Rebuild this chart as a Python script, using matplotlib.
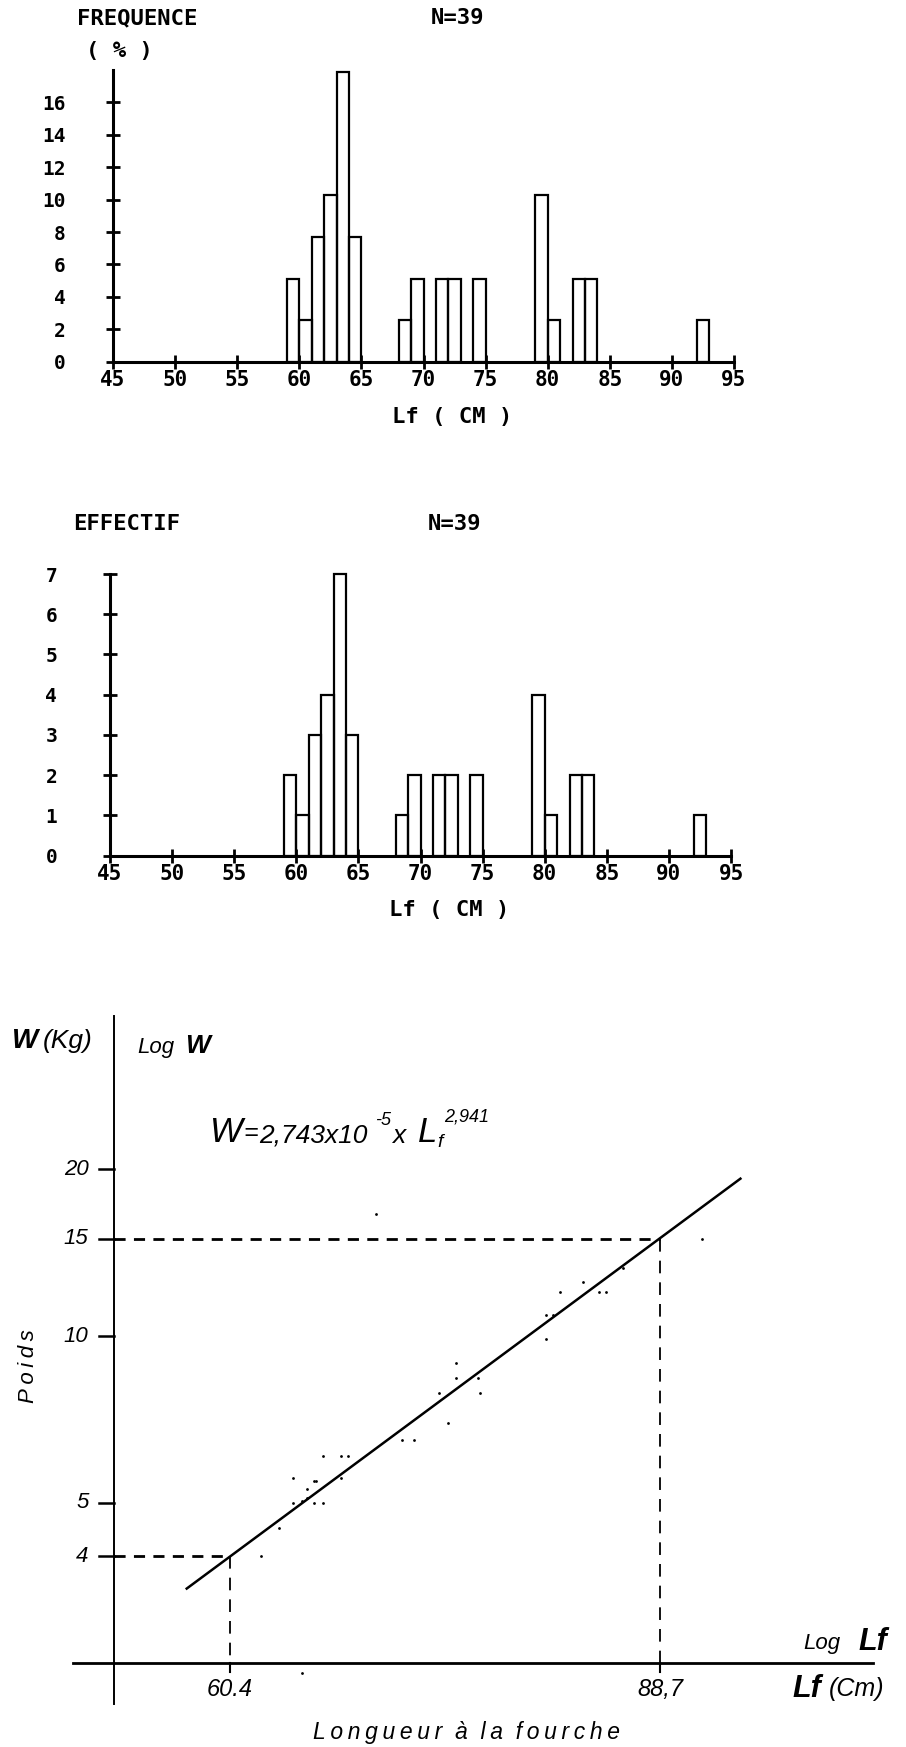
import numpy as np
import matplotlib
matplotlib.use("Agg")
import matplotlib.pyplot as plt

W_PX, H_PX = 906, 1747

# ---------------- data ----------------
bin_left = [59, 60, 61, 62, 63, 64, 68, 69, 71, 72, 74, 79, 80, 82, 83, 92]
counts = [2, 1, 3, 4, 7, 3, 1, 2, 2, 2, 2, 4, 1, 2, 2, 1]
freq_pct = [5.1, 2.6, 7.7, 10.3, 17.9, 7.7, 2.6, 5.1, 5.1, 5.1, 5.1, 10.3, 2.6, 5.1, 5.1, 2.6]
x_ticks = [45, 50, 55, 60, 65, 70, 75, 80, 85, 90, 95]
freq_ticks = [0, 2, 4, 6, 8, 10, 12, 14, 16]
count_ticks = [0, 1, 2, 3, 4, 5, 6, 7]

lf_points = [92.1, 68.8, 85.8, 82.8, 84.0, 84.5, 81.1, 80.1, 80.6, 80.1, 73.9, 73.9,
             75.4, 75.5, 72.8, 73.4, 70.4, 71.2, 65.6, 66.7, 67.1, 63.9, 65.1, 65.2,
             66.7, 64.7, 63.9, 64.4, 65.1, 65.6, 64.7, 63.1, 62.1, 64.4]
w_points = [15.0, 16.6, 13.3, 12.5, 12.0, 12.0, 12.0, 10.9, 10.9, 9.9, 8.95, 8.4,
            8.4, 7.9, 7.9, 6.97, 6.5, 6.5, 6.07, 6.07, 6.07, 5.55, 5.47, 5.47,
            5.55, 5.29, 5.0, 5.03, 5.0, 5.0, 5.1, 4.51, 4.0, 2.46]
fit_lf = [58.1, 95.3]
fit_w = [3.5, 19.25]
ref_lf = [60.4, 88.7]
ref_w = [4, 15]
ref_lf_labels = ["60.4", "88,7"]
w_ticks = [4, 5, 10, 15, 20]

# ---------------- figure ----------------
fig = plt.figure(figsize=(W_PX / 100, H_PX / 100), dpi=100)
fig.patch.set_facecolor("white")

MONO = "DejaVu Sans Mono"
ITAL = ["Liberation Sans", "DejaVu Sans"]
TS = "\u2009"  # thin space used for letter spacing


def spaced(word):
    return TS.join(word)


def px_axes(left, top, right, bottom):
    return fig.add_axes([left / W_PX, 1 - bottom / H_PX,
                         (right - left) / W_PX, (bottom - top) / H_PX])


def ptext(x, y, s, **kw):
    kw.setdefault("va", "center")
    return fig.text(x / W_PX, 1 - y / H_PX, s, **kw)


def itext(x, y, s, size, bold=False, **kw):
    kw.setdefault("va", "baseline")
    return ptext(x, y, s, fontsize=size, style="italic", family=ITAL,
                 weight="bold" if bold else "normal", **kw)


def hist_panel(box, values, ymax, yticks, ypad):
    ax = px_axes(*box)
    ax.bar(bin_left, values, width=1, align="edge", fill=False,
           edgecolor="black", linewidth=1.6, clip_on=False, zorder=3)
    ax.set_xlim(45, 95)
    ax.set_ylim(0, ymax)
    for s in ["top", "right"]:
        ax.spines[s].set_visible(False)
    for s in ["left", "bottom"]:
        ax.spines[s].set_linewidth(2.2)
    ax.set_xticks(x_ticks)
    ax.set_yticks(yticks)
    ax.tick_params(axis="both", direction="inout", length=10, width=2)
    ax.tick_params(axis="x", pad=1)
    ax.tick_params(axis="y", pad=ypad)
    for lab in ax.get_xticklabels():
        lab.set_fontfamily(MONO)
        lab.set_fontweight("bold")
        lab.set_fontsize(15)
    for lab in ax.get_yticklabels():
        lab.set_fontfamily(MONO)
        lab.set_fontweight("bold")
        lab.set_fontsize(14)
    ax.patch.set_visible(False)
    return ax


TITLE = dict(family=MONO, weight="bold", fontsize=16)

# top histogram : frequency (%)
ax1 = hist_panel((113, 70, 734, 361.7), freq_pct, 18.0, freq_ticks, 29)
ptext(77, 18, "FREQUENCE", **TITLE)
ptext(86, 51, "( % )", **TITLE)
ptext(431, 18, "N=39", **TITLE)
ptext(452, 417, "Lf ( CM )", ha="center", **TITLE)

# middle histogram : counts
ax2 = hist_panel((110, 574, 731, 855.5), counts, 7, count_ticks, 33)
ptext(73, 524, "EFFECTIF", **TITLE)
ptext(428, 524, "N=39", **TITLE)
ptext(449, 910, "Lf ( CM )", ha="center", **TITLE)

# bottom : log-log weight / length
ax3 = px_axes(0, 1000, 906, 1747)
ax3.set_xscale("log")
ax3.set_yscale("log")
ax3.set_xlim(49.17, 110.5)
ax3.set_ylim(1.811, 40.47)
ax3.axis("off")

lf_origin = 54.43     # position of the vertical (Log W) axis
w_origin = 2.564      # position of the horizontal (Log Lf) axis
w_axis_top = 37.9
w_axis_bottom = 2.17
lf_axis_left = 52.5
lf_axis_right = 107.3
tick_lf_left = 53.72
w_below = 2.475
w_label = 2.30

ax3.plot([lf_origin, lf_origin], [w_axis_bottom, w_axis_top], color="black", lw=1.4)
ax3.plot([lf_axis_left, lf_axis_right], [w_origin, w_origin], color="black", lw=2.0)

for wt in w_ticks:
    ax3.plot([tick_lf_left, lf_origin], [wt, wt], color="black", lw=1.8)
    ax3.text(tick_lf_left - 0.5, wt, str(wt), ha="right", va="center",
             fontsize=16, style="italic", family=ITAL)

# reference dashed lines
for lf_r, w_r, lab in zip(ref_lf, ref_w, ref_lf_labels):
    ax3.plot([lf_origin, lf_r], [w_r, w_r], color="black", lw=2.0,
             dashes=(4, 3))
    ax3.plot([lf_r, lf_r], [w_r, w_origin], color="black", lw=1.3,
             dashes=(7, 5))
    ax3.plot([lf_r, lf_r], [w_origin, w_below], color="black", lw=1.5)
    ax3.text(lf_r, w_label, lab, ha="center", va="center", fontsize=17,
             style="italic", family=ITAL)

# fitted line and points
ax3.plot(fit_lf, fit_w, color="black", lw=1.8)
ax3.scatter(lf_points, w_points, s=4, color="black", zorder=4, linewidths=0)

# axis titles of the bottom panel
itext(12, 1048, "W", 20, bold=True)
itext(43, 1048, "(Kg)", 19)
itext(137, 1053, "Log", 16)
itext(185, 1053, "W", 19, bold=True)

# equation
EQ_Y = 1142
itext(210, EQ_Y, "W", 25)
itext(243, EQ_Y - 2, "=", 18)
itext(259, EQ_Y + 1, "2,743x10", 19)
itext(375, EQ_Y - 17, "-5", 13)
itext(392, EQ_Y + 1, "x", 19)
itext(418, EQ_Y, "L", 25)
itext(437, EQ_Y + 5, "f", 14)
itext(444, EQ_Y - 20, "2,941", 13)

ptext(28, 1366, spaced("Poids"), fontsize=16, style="italic", family=ITAL,
      rotation=90, ha="center")

itext(803, 1649, "Log", 16)
itext(858, 1650, "Lf", 22, bold=True)
itext(792, 1697, "Lf", 22, bold=True)
itext(829, 1696, "(Cm)", 18)

ptext(467, 1733, "  ".join(spaced(w) for w in ["Longueur", "à", "la", "fourche"]),
      fontsize=16.5, style="italic", family=ITAL, ha="center")

fig.savefig("out.png", dpi=100, facecolor="white")
